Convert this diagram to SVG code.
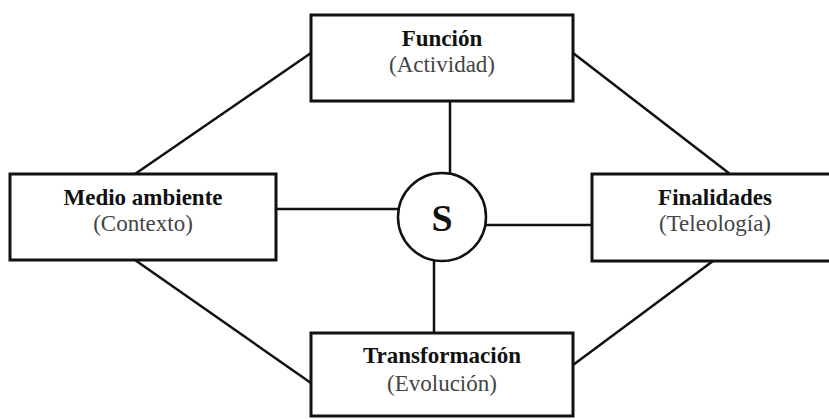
<svg xmlns="http://www.w3.org/2000/svg" width="829" height="419" viewBox="0 0 829 419">
<style>
.box{fill:#fff;stroke:#111;stroke-width:3}
.ln{stroke:#111;stroke-width:2.5;fill:none}
.t{font-family:"Liberation Serif","Times New Roman",serif;font-size:23px;text-anchor:middle}
.b{font-weight:bold;fill:#111}
.r{fill:#444}
</style>
<rect width="829" height="419" fill="#fff"/>
<g id="connectors">
<line class="ln" x1="135" y1="174" x2="311" y2="53"/>
<line class="ln" x1="135" y1="260" x2="311" y2="383"/>
<line class="ln" x1="573" y1="53" x2="730" y2="174"/>
<line class="ln" x1="713" y1="261" x2="573" y2="365"/>
<line class="ln" x1="450" y1="101" x2="450" y2="174"/>
<line class="ln" x1="276" y1="209" x2="399" y2="209"/>
<line class="ln" x1="485" y1="225" x2="592" y2="225"/>
<line class="ln" x1="434" y1="260" x2="434" y2="333"/>
</g>
<g id="funcion">
<rect class="box" x="311" y="15" width="262" height="86"/>
<text class="t b" x="442" y="46">Función</text>
<text class="t r" x="442" y="72">(Actividad)</text>
</g>
<g id="medio">
<rect class="box" x="10" y="174" width="266" height="86"/>
<text class="t b" x="143" y="205">Medio ambiente</text>
<text class="t r" x="143" y="231">(Contexto)</text>
</g>
<g id="finalidades">
<rect class="box" x="592" y="174" width="246" height="87"/>
<text class="t b" x="715" y="205">Finalidades</text>
<text class="t r" x="715" y="231">(Teleología)</text>
</g>
<g id="transformacion">
<rect class="box" x="311" y="333" width="262" height="83"/>
<text class="t b" x="442" y="363">Transformación</text>
<text class="t r" x="442" y="391">(Evolución)</text>
</g>
<g id="s">
<circle cx="442" cy="217" r="44" fill="#fff" stroke="#111" stroke-width="2.5"/>
<text class="t b" x="442" y="231" style="font-size:38px">S</text>
</g>
</svg>
